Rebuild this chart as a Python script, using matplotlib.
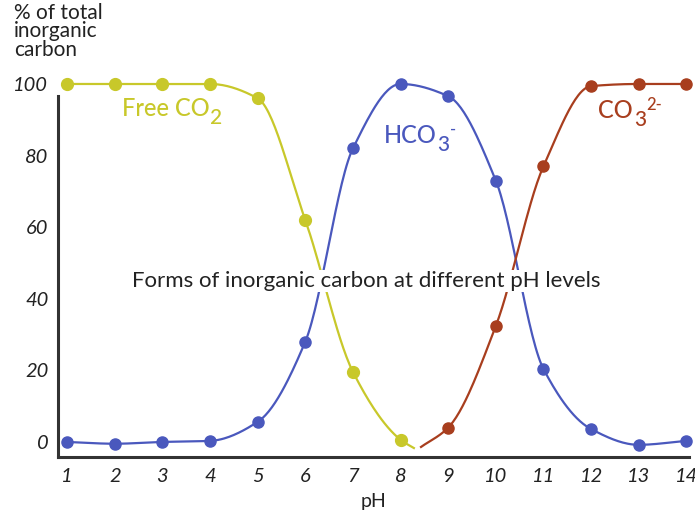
import numpy as np
import matplotlib
matplotlib.use("Agg")
import matplotlib.pyplot as plt

plt.rcParams['font.family'] = ['Lato', 'DejaVu Sans']

# values (% of total inorganic carbon)
ph = [1, 2, 3, 4, 5, 6, 7, 8, 9, 10, 11, 12, 13, 14]
co2_ph = [1, 2, 3, 4, 5, 6, 7, 8]
co2 = [100, 100, 100, 100, 96, 62, 19.6, 0.6]
hco3 = [0, -0.5, 0, 0.3, 5.6, 28, 82, 100, 96.6, 73, 20.4, 3.6, -0.8, 0.3]
co3_ph = [9, 10, 11, 12, 13, 14]
co3 = [4, 32.4, 77, 99.4, 100, 100]
# where the drawn curves stop / start near pH 8.4
co2_end = (8.28, -1.7)
co3_start = (8.43, -1.4)

yellow = '#c8c82a'
blue = '#4a58bd'
brown = '#a83e1e'


def smooth(xs, ys, n=30):
    # monotone cubic (Fritsch-Carlson) through the points, for drawing only
    x = np.asarray(xs, float)
    y = np.asarray(ys, float)
    h = np.diff(x)
    d = np.diff(y) / h
    m = np.zeros_like(y)
    for i in range(1, len(x) - 1):
        if d[i - 1] * d[i] > 0:
            w1 = 2 * h[i] + h[i - 1]
            w2 = h[i] + 2 * h[i - 1]
            m[i] = (w1 + w2) / (w1 / d[i - 1] + w2 / d[i])
    m[0] = d[0]
    m[-1] = d[-1]
    outx, outy = [], []
    t = np.linspace(0, 1, n, endpoint=False)
    for i in range(len(x) - 1):
        h00 = 2 * t ** 3 - 3 * t ** 2 + 1
        h10 = t ** 3 - 2 * t ** 2 + t
        h01 = -2 * t ** 3 + 3 * t ** 2
        h11 = t ** 3 - t ** 2
        outx.extend(x[i] + t * h[i])
        outy.extend(h00 * y[i] + h10 * h[i] * m[i] + h01 * y[i + 1] + h11 * h[i] * m[i + 1])
    outx.append(x[-1])
    outy.append(y[-1])
    return outx, outy


def chem_label(x, y, base, sub, sup, color):
    t = ax.text(x, y, base, color=color, fontsize=17, fontweight='medium')
    s = ax.annotate(sub, xy=(1, 0), xycoords=t, xytext=(0.5, -5.5),
                    textcoords='offset points', va='bottom', ha='left',
                    color=color, fontsize=15, fontweight='medium')
    if sup:
        ax.annotate(sup, xy=(1, 1), xycoords=s, xytext=(0, -2.5),
                    textcoords='offset points', va='bottom', ha='left',
                    color=color, fontsize=12, fontweight='medium')


fig = plt.figure(figsize=(6.95, 5.18), dpi=100)
ax = fig.add_axes([0.0835, 0.1178, 0.9075, 0.727])

lx, ly = smooth(co2_ph + [co2_end[0]], co2 + [co2_end[1]])
ax.plot(lx, ly, color=yellow, lw=1.6, clip_on=False)
ax.plot(co2_ph, co2, 'o', color=yellow, ms=8.5, clip_on=False, zorder=3)

lx, ly = smooth(ph, hco3)
ax.plot(lx, ly, color=blue, lw=1.6, clip_on=False)
ax.plot(ph, hco3, 'o', color=blue, ms=8, clip_on=False, zorder=3)

lx, ly = smooth([co3_start[0]] + co3_ph, [co3_start[1]] + co3)
ax.plot(lx, ly, color=brown, lw=1.6, clip_on=False)
ax.plot(co3_ph, co3, 'o', color=brown, ms=8, clip_on=False, zorder=3)

ax.set_xlim(0.81, 14.05)
ax.set_ylim(-4.2, 101)
ax.set_xticks(ph)
ax.set_yticks([0, 20, 40, 60, 80, 100])
for s in ['top', 'right']:
    ax.spines[s].set_visible(False)
ax.spines['left'].set_bounds(-4.2, 96.6)
for s in ['left', 'bottom']:
    ax.spines[s].set_linewidth(2.2)
    ax.spines[s].set_color('#333333')
ax.tick_params(length=0, labelsize=14.5, colors='#222222')
ax.tick_params(axis='x', pad=8)
ax.tick_params(axis='y', pad=7)
for lab in ax.get_xticklabels() + ax.get_yticklabels():
    lab.set_fontstyle('italic')

ax.set_xlabel('pH', fontsize=14, labelpad=6, color='#222222')
fig.text(0.02, 0.995, '% of total\ninorganic\ncarbon', fontsize=15, va='top',
         ha='left', linespacing=0.92, color='#222222')

chem_label(2.15, 91, 'Free CO', '2', None, yellow)
chem_label(7.65, 83.5, 'HCO', '3', '-', blue)
chem_label(12.15, 90.5, 'CO', '3', '2-', brown)

ax.text(7.29, 45, 'Forms of inorganic carbon at different pH levels',
        fontsize=16, ha='center', va='center', color='#222222', zorder=5,
        bbox=dict(facecolor='white', edgecolor='none', pad=1))

fig.savefig('out.png', dpi=100)
